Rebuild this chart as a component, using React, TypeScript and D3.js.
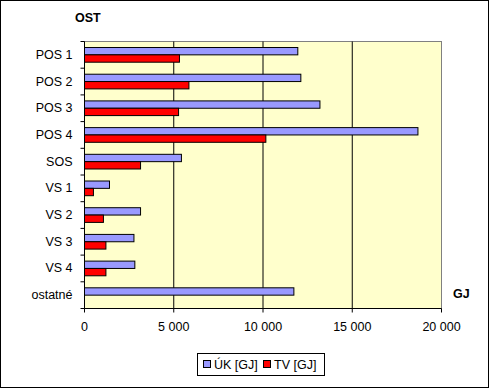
import * as d3 from "d3";

const categories = ["POS 1", "POS 2", "POS 3", "POS 4", "SOS", "VS 1", "VS 2", "VS 3", "VS 4", "ostatné"];
const ukValues = [11950, 12120, 13190, 18680, 5430, 1400, 3140, 2770, 2820, 11730];
const tvValues = [5320, 5850, 5270, 10160, 3140, 500, 1060, 1200, 1200, 0];
const xTicks = [0, 5000, 10000, 15000, 20000];
const seriesNames = ["ÚK [GJ]", "TV [GJ]"];
const seriesColors = ["#9999FF", "#FF0000"];

const W = 489;
const H = 388;
const plot = { left: 84.5, right: 441.5, top: 41.5, bottom: 308.5 };
const font = "'Liberation Sans', Arial, sans-serif";

export default function App() {
  const x = d3.scaleLinear().domain([0, 20000]).range([plot.left, plot.right]);
  const y = d3.scaleBand<string>().domain(categories).range([plot.top, plot.bottom]).padding(0);
  const bw = y.bandwidth();
  const group = bw * 0.55;
  const barH = group / 2;
  const fmt = (v: number) => d3.format(",")(v).replace(/,/g, " ");

  const bounds = [...categories.map((c) => y(c)!), plot.bottom];

  return (
    <svg
      width={W}
      height={H}
      style={{ position: "absolute", left: 0, top: 0, fontFamily: font }}
    >
      <rect x={0.5} y={0.5} width={W - 1} height={H - 1} fill="#fff" stroke="#000" />
      <rect
        x={plot.left}
        y={plot.top}
        width={plot.right - plot.left}
        height={plot.bottom - plot.top}
        fill="#FFFFCC"
        stroke="#808080"
      />
      {xTicks.slice(1, -1).map((t) => (
        <line key={t} x1={x(t)} x2={x(t)} y1={plot.top} y2={plot.bottom} stroke="#000" />
      ))}
      {categories.map((c, i) => {
        const y0 = y(c)! + (bw - group) / 2;
        return (
          <g key={c}>
            <rect
              x={x(0)}
              y={y0}
              width={x(ukValues[i]) - x(0)}
              height={barH}
              fill={seriesColors[0]}
              stroke="#000"
            />
            {tvValues[i] > 0 && (
              <rect
                x={x(0)}
                y={y0 + barH}
                width={x(tvValues[i]) - x(0)}
                height={barH}
                fill={seriesColors[1]}
                stroke="#000"
              />
            )}
            <text
              x={plot.left - 12}
              y={y(c)! + bw / 2}
              textAnchor="end"
              dominantBaseline="central"
              fontSize={12.5}
            >
              {c}
            </text>
          </g>
        );
      })}
      {/* axes */}
      <line x1={plot.left} x2={plot.left} y1={plot.top} y2={plot.bottom} stroke="#000" />
      <line x1={plot.left} x2={plot.right} y1={plot.bottom} y2={plot.bottom} stroke="#000" />
      {bounds.map((b, i) => (
        <line key={i} x1={plot.left - 4} x2={plot.left} y1={b} y2={b} stroke="#000" />
      ))}
      {xTicks.map((t) => (
        <g key={t}>
          <line x1={x(t)} x2={x(t)} y1={plot.bottom} y2={plot.bottom + 4} stroke="#000" />
          <text x={x(t)} y={plot.bottom + 18} textAnchor="middle" dominantBaseline="central" fontSize={12.5}>
            {fmt(t)}
          </text>
        </g>
      ))}
      <text x={75} y={18} fontSize={12.5} fontWeight="bold" dominantBaseline="central">
        OST
      </text>
      <text x={453} y={294} fontSize={12.5} fontWeight="bold" dominantBaseline="central">
        GJ
      </text>
      {/* legend */}
      <rect x={197.5} y={353.5} width={127} height={22} fill="#fff" stroke="#000" />
      {seriesNames.map((s, i) => {
        const lx = i === 0 ? 203 : 263;
        return (
          <g key={s}>
            <rect x={lx + 0.5} y={360.5} width={7} height={7} fill={seriesColors[i]} stroke="#000" />
            <text x={lx + 11} y={364.5} fontSize={12.5} dominantBaseline="central">
              {s}
            </text>
          </g>
        );
      })}
    </svg>
  );
}
